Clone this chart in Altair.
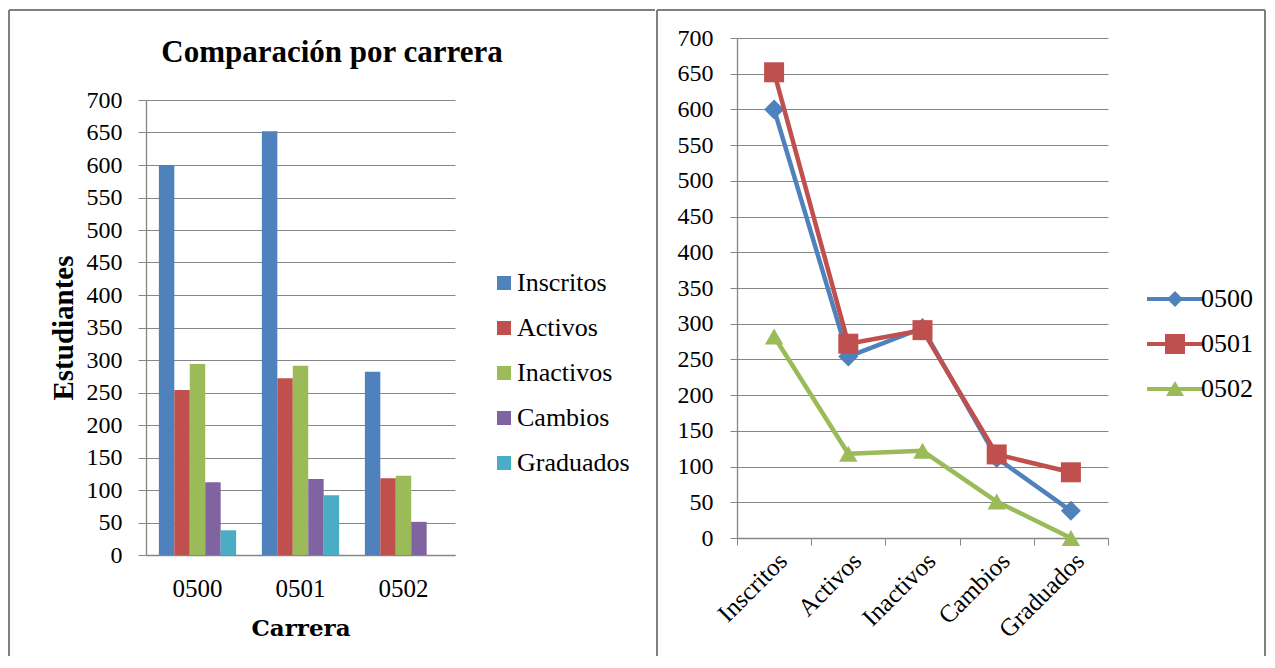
import altair as alt
import pandas as pd

# ---------------- data ----------------
carreras = ["0500", "0501", "0502"]
indicadores = ["Inscritos", "Activos", "Inactivos", "Cambios", "Graduados"]
valores_0500 = [600, 254, 294, 112, 38]
valores_0501 = [652, 272, 291, 117, 92]
valores_0502 = [282, 118, 122, 51, 0]
colores_indicador = ["#4F81BD", "#C0504D", "#9BBB59", "#8064A2", "#4BACC6"]
colores_carrera = ["#4F81BD", "#C0504D", "#9BBB59"]
marcadores = ["diamond", "square", "triangle-up"]
tamanos_marcador = [400, 400, 340]
y_ticks = list(range(0, 701, 50))

series = {"0500": valores_0500, "0501": valores_0501, "0502": valores_0502}
rows = [{"carrera": c, "indicador": ind, "valor": v}
        for c in carreras for ind, v in zip(indicadores, series[c])]
df = pd.DataFrame(rows)

SERIF = "Liberation Serif"
GRAY = "#868686"
BORDER = "#808080"

LW, LH = 309, 517   # left plot area (origin at same height as right one)
RW, RH = 371, 500   # right plot area

blank = alt.Data(values=[{}])


def vrule(x, y, y2):
    return alt.Chart(blank).mark_rule(color=BORDER, strokeWidth=2).encode(
        x=alt.value(x), y=alt.value(y), y2=alt.value(y2))


def hrule(y, x, x2):
    return alt.Chart(blank).mark_rule(color=BORDER, strokeWidth=2).encode(
        y=alt.value(y), x=alt.value(x), x2=alt.value(x2))


# ---------------- left: grouped bars ----------------
bars = alt.Chart(df).mark_bar().encode(
    x=alt.X("carrera:N", sort=carreras,
            scale=alt.Scale(paddingInner=0.25, paddingOuter=0.125),
            axis=alt.Axis(title="Carrera", labelAngle=0, ticks=False, tickSize=0,
                          labelPadding=21, labelFont=SERIF, labelFontSize=25,
                          labelColor="black", titleFont="DejaVu Serif",
                          titleFontSize=23, titleFontWeight="bold", titleColor="black",
                          titlePadding=16, domainColor=GRAY, domainWidth=1.3, grid=False)),
    xOffset=alt.XOffset("indicador:N", sort=indicadores,
                        scale=alt.Scale(paddingInner=0, paddingOuter=0)),
    y=alt.Y("valor:Q", scale=alt.Scale(domain=[0, 700], range=[LH, 62], nice=False),
            axis=alt.Axis(values=y_ticks, title="Estudiantes", labelFont=SERIF,
                          labelFontSize=24, labelColor="black", tickSize=8,
                          tickColor=GRAY, labelPadding=16, gridColor=GRAY,
                          domainColor=GRAY, domainWidth=1.3, titleFont=SERIF,
                          titleFontSize=29, titleFontWeight="bold", titleColor="black",
                          titlePadding=8)),
    color=alt.Color("indicador:N", sort=indicadores,
                    scale=alt.Scale(domain=indicadores, range=colores_indicador),
                    legend=alt.Legend(title=None, orient="none", legendX=345, legendY=232,
                                      symbolType="square", symbolSize=196,
                                      labelFont=SERIF, labelFontSize=26, labelColor="black",
                                      labelOffset=0, rowPadding=19, padding=0,
                                      symbolStrokeWidth=0)),
)

left = alt.layer(
    bars,
    vrule(-137, -28, 618),
    hrule(-28, -137, 509),
).properties(
    width=LW, height=LH,
    title=alt.TitleParams("Comparación por carrera", font=SERIF, fontSize=31,
                          fontWeight="bold", color="black", anchor="middle",
                          frame="bounds", offset=-60),
)

# ---------------- right: lines ----------------
x_r = alt.X("indicador:N", sort=indicadores,
            scale=alt.Scale(type="band", paddingInner=0, paddingOuter=0),
            bandPosition=0.5,
            axis=alt.Axis(title=None, labelAngle=315, labelFont=SERIF, labelFontSize=25,
                          labelColor="black", tickBand="extent", tickSize=7,
                          tickColor=GRAY, domainColor=GRAY, domainWidth=1.3,
                          labelPadding=3, grid=False))
y_r = alt.Y("valor:Q", scale=alt.Scale(domain=[0, 700], nice=False),
            axis=alt.Axis(values=y_ticks, title=None, labelFont=SERIF, labelFontSize=24,
                          labelColor="black", tickSize=7, tickColor=GRAY, labelPadding=17,
                          gridColor=GRAY, domainColor=GRAY, domainWidth=1.3))
color_r_scale = alt.Scale(domain=carreras, range=colores_carrera)

legend_paths = [
    "M-2.8,-0.2H2.8V0.2H-2.8Z M0,-0.8L0.8,0L0,0.8L-0.8,0Z",
    "M-2.8,-0.2H2.8V0.2H-2.8Z M-1,-1H1V1H-1Z",
    "M-2.8,-0.2H2.8V0.2H-2.8Z M0,-0.8L0.9,0.7H-0.9Z",
]
leg_r = alt.Legend(title=None, orient="none", legendX=425, legendY=248,
                   symbolSize=400, labelFont=SERIF, labelFontSize=26, labelColor="black",
                   labelOffset=13, rowPadding=19, padding=0, symbolStrokeWidth=0)

layers = []
for c, col, shp, sz in zip(carreras, colores_carrera, marcadores, tamanos_marcador):
    base = alt.Chart(df).transform_filter(alt.datum.carrera == c)
    layers.append(base.mark_line(strokeWidth=4.5, strokeJoin="round", strokeCap="round",
                                 color=col).encode(x=x_r, y=y_r))
    layers.append(base.mark_point(filled=True, shape=shp, size=sz, opacity=1,
                                  color=col).encode(x=x_r, y=y_r))

legend_layer = alt.Chart(df).transform_filter("false").mark_point(
    filled=True, size=400, opacity=1).encode(
    x=x_r, y=y_r,
    color=alt.Color("carrera:N", scale=color_r_scale, legend=leg_r),
    shape=alt.Shape("carrera:N", scale=alt.Scale(domain=carreras, range=legend_paths),
                    legend=leg_r),
)

right = alt.layer(
    *layers,
    legend_layer,
    vrule(-80, -28, 618),
    hrule(-28, -80, 528),
    vrule(528, -28, 618),
).properties(width=RW, height=RH)

chart = alt.hconcat(left, right, spacing=0).resolve_scale(
    color="independent", shape="independent", x="independent", y="independent"
).resolve_legend(color="independent", shape="independent").properties(
    padding={"left": 0, "top": 1, "right": 0, "bottom": 0}
).configure_view(stroke=None)

chart.save("out.html", embed_options={"renderer": "svg", "actions": False})
